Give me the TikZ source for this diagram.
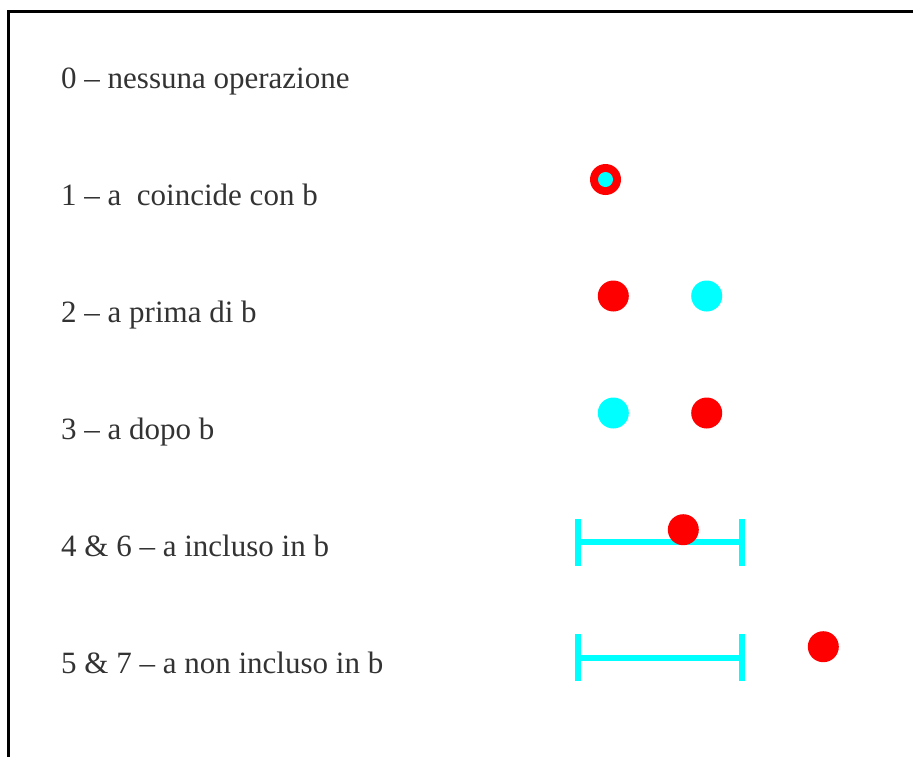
\documentclass[tikz,border=0pt]{standalone}
\usepackage{fontspec}
\setmainfont{Liberation Serif}
\definecolor{txt}{HTML}{333333}
\definecolor{cy}{HTML}{00FFFF}
\definecolor{rd}{HTML}{FF0000}
\begin{document}
\begin{tikzpicture}[x=1pt,y=-1pt,
  lbl/.style={anchor=base west,inner sep=0pt,text=txt,font=\fontsize{31}{37}\selectfont},
  rdot/.style={circle,fill=rd,inner sep=0pt,minimum size=31pt},
  cdot/.style={circle,fill=cy,inner sep=0pt,minimum size=31pt},
  ival/.style={draw=cy,line width=5.5pt}]
\useasboundingbox (0,0) rectangle (913,756);
\fill[white] (0,0) rectangle (913,756);
\draw[line width=3pt] (8.5,760) -- (8.5,11) -- (920,11);
\node[lbl] (l0) at (61,88.5) {0 – nessuna operazione};
\node[lbl] (l1) at (61,205.5) {1 – a\ \ coincide con b};
\node[lbl] (l2) at (61,322.5) {2 – a prima di b};
\node[lbl] (l3) at (61,439.5) {3 – a dopo b};
\node[lbl] (l4) at (61,556.5) {4 \& 6 – a incluso in b};
\node[lbl] (l5) at (61,673.5) {5 \& 7 – a non incluso in b};
% row 1
\node[rdot] (r1) at (605.5,179.5) {};
\node[cdot,minimum size=15pt] (c1) at (605.5,179.5) {};
% row 2
\node[rdot] (r2) at (613.3,296) {};
\node[cdot] (c2) at (706.7,296) {};
% row 3
\node[cdot] (c3) at (613.3,413) {};
\node[rdot] (r3) at (706.7,413) {};
% row 4
\coordinate (i4a) at (578.2,542);
\coordinate (i4b) at (742.2,542);
\draw[ival] (i4a) -- (i4b);
\draw[ival] ([yshift=-24]i4a) -- ([yshift=23]i4a);
\draw[ival] ([yshift=-24]i4b) -- ([yshift=23]i4b);
\node[rdot] (r4) at (683.3,529.7) {};
% row 5
\coordinate (i5a) at (578.2,658);
\coordinate (i5b) at (742.2,658);
\draw[ival] (i5a) -- (i5b);
\draw[ival] ([yshift=-23]i5a) -- ([yshift=24]i5a);
\draw[ival] ([yshift=-23]i5b) -- ([yshift=24]i5b);
\node[rdot] (r5) at (823.3,646.7) {};
\end{tikzpicture}
\end{document}
